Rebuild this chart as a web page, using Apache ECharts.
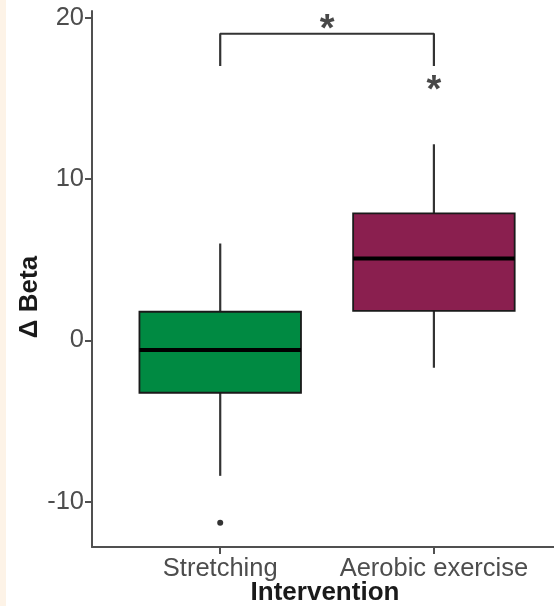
<!DOCTYPE html>
<html>
<head>
<meta charset="utf-8">
<script src="https://cdn.jsdelivr.net/npm/echarts@6/dist/echarts.min.js"></script>
<style>
  html, body { margin: 0; padding: 0; background: #ffffff; }
  #wrap { position: relative; width: 554px; height: 606px; background: #ffffff; }
  #edge { position: absolute; left: 0; top: 0; width: 6px; height: 606px; background: #fdf3e7; }
  #chart { position: absolute; left: 0; top: 0; width: 554px; height: 606px; }
</style>
</head>
<body>
<div id="wrap"><div id="edge"></div><div id="chart"></div></div>
<script>
// ---- data ----
const categories = ['Stretching', 'Aerobic exercise'];
const lowerWhisker = [-8.4, -1.7];
const q1Values = [-3.25, 1.83];
const medianValues = [-0.6, 5.07];
const q3Values = [1.77, 7.87];
const upperWhisker = [6.0, 12.15];
const outlierGroups = ['Stretching'];
const outlierValues = [-11.3];
const yTicks = [-10, 0, 10, 20];
const bracketGroups = ['Stretching', 'Aerobic exercise'];
const bracketLegBottom = 17.0;
const bracketTop = 19.0;
const starLabels = ['*', '*'];
const starX = [1.5, 2];          // between the groups, above Aerobic exercise
const starY = [19.75, 16.0];
const xTitle = 'Intervention';
const yTitle = 'Δ Beta';

// ---- build options ----
const pos = name => categories.indexOf(name) + 1;
const boxData = categories.map((c, i) => [i + 1, lowerWhisker[i], q1Values[i], medianValues[i], q3Values[i], upperWhisker[i]]);
const outlierData = outlierGroups.map((g, i) => [pos(g), outlierValues[i]]);
const bx0 = pos(bracketGroups[0]), bx1 = pos(bracketGroups[1]);
const bracketData = [[bx0, bracketLegBottom], [bx0, bracketTop], [bx1, bracketTop], [bx1, bracketLegBottom]];
const starData = starX.map((x, i) => ({ value: [x, starY[i]], name: starLabels[i] }));

const boxColors = ['#008a42', '#8a1f4f'];
const BOX_W = 0.756;
const FONT = '"Liberation Sans", Arial, Helvetica, sans-serif';

const chart = echarts.init(document.getElementById('chart'), null, { renderer: 'canvas' });
chart.setOption({
  animation: false,
  backgroundColor: 'transparent',
  grid: { left: 92, right: 0, top: 11, bottom: 59, containLabel: false, outerBoundsMode: 'none' },
  xAxis: {
    type: 'value',
    min: 0.4,
    max: 2.562,
    splitLine: { show: false },
    axisLine: { show: true, onZero: false, lineStyle: { color: '#505050', width: 2 } },
    axisTick: { show: true, customValues: categories.map((c, i) => i + 1), length: 7, lineStyle: { color: '#505050', width: 2 } },
    axisLabel: {
      customValues: categories.map((c, i) => i + 1),
      formatter: v => categories[Math.round(v) - 1] || '',
      color: '#4d4d4d', fontSize: 25.5, fontFamily: FONT, margin: 9
    }
  },
  yAxis: {
    type: 'value',
    min: -12.81,
    max: 20.41,
    splitLine: { show: false },
    axisLine: { show: true, onZero: false, lineStyle: { color: '#505050', width: 2 } },
    axisTick: { show: true, customValues: yTicks, length: 7, lineStyle: { color: '#505050', width: 2 } },
    axisLabel: { customValues: yTicks, color: '#4d4d4d', fontSize: 25.5, fontFamily: FONT, margin: 8 }
  },
  graphic: [
    {
      type: 'text',
      x: 30, y: 297,
      rotation: Math.PI / 2,
      style: { text: yTitle, fill: '#1a1a1a', font: 'bold 26px ' + FONT, textAlign: 'center', textVerticalAlign: 'middle' }
    },
    {
      type: 'text',
      x: 325, y: 593,
      style: { text: xTitle, fill: '#1a1a1a', font: 'bold 26px ' + FONT, textAlign: 'center', textVerticalAlign: 'middle' }
    }
  ],
  series: [
    {
      type: 'custom',
      data: boxData,
      encode: { x: 0, y: [1, 2, 3, 4, 5] },
      renderItem: function (params, api) {
        const x = api.value(0);
        const lo = api.coord([x, api.value(1)]);
        const q1 = api.coord([x, api.value(2)]);
        const md = api.coord([x, api.value(3)]);
        const q3 = api.coord([x, api.value(4)]);
        const hi = api.coord([x, api.value(5)]);
        const half = api.size([BOX_W, 0])[0] / 2;
        const color = boxColors[params.dataIndex];
        return {
          type: 'group',
          children: [
            { type: 'line', shape: { x1: hi[0], y1: hi[1], x2: q3[0], y2: q3[1] }, style: { stroke: '#333333', lineWidth: 2.2 } },
            { type: 'line', shape: { x1: lo[0], y1: lo[1], x2: q1[0], y2: q1[1] }, style: { stroke: '#333333', lineWidth: 2.2 } },
            { type: 'rect', shape: { x: q3[0] - half, y: q3[1], width: half * 2, height: q1[1] - q3[1] }, style: { fill: color, stroke: '#1a1a1a', lineWidth: 1.8 } },
            { type: 'line', shape: { x1: md[0] - half, y1: md[1], x2: md[0] + half, y2: md[1] }, style: { stroke: '#000000', lineWidth: 4 } }
          ]
        };
      },
      z: 2
    },
    {
      type: 'scatter',
      data: outlierData,
      symbol: 'circle',
      symbolSize: 6,
      itemStyle: { color: '#000000' },
      z: 3
    },
    {
      type: 'line',
      data: bracketData,
      showSymbol: false,
      symbol: 'none',
      lineStyle: { color: '#333333', width: 2.2 },
      z: 3
    },
    {
      type: 'scatter',
      data: starData,
      symbolSize: 1,
      itemStyle: { color: 'rgba(0,0,0,0)' },
      label: {
        show: true,
        position: 'inside',
        formatter: p => p.name,
        color: '#1a1a1a',
        fontSize: 38,
        fontWeight: 'bold',
        fontFamily: FONT,
        offset: [0, 9]
      },
      z: 4
    }
  ]
});
</script>
</body>
</html>
